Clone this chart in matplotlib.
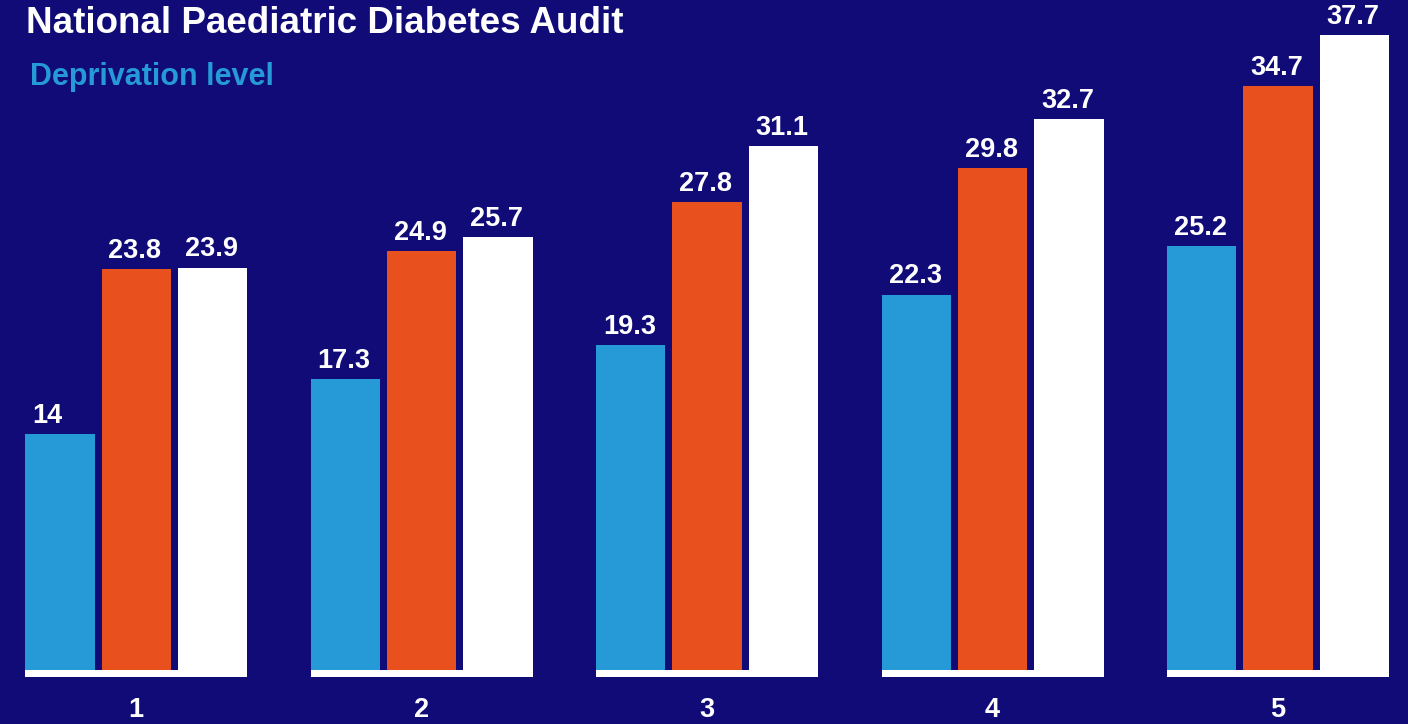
import numpy as np
import matplotlib.pyplot as plt

plt.rcParams['font.family'] = ['Liberation Sans', 'DejaVu Sans']

levels = ['1', '2', '3', '4', '5']
series_a = [14, 17.3, 19.3, 22.3, 25.2]     # blue
series_b = [23.8, 24.9, 27.8, 29.8, 34.7]   # orange
series_c = [23.9, 25.7, 31.1, 32.7, 37.7]   # white

bg = '#110b78'
colors = ['#259ad6', '#e8501e', '#ffffff']

fig = plt.figure(figsize=(14.08, 7.24), dpi=100, facecolor=bg)
ax = fig.add_axes([0, 0, 1, 1])
ax.set_facecolor(bg)

x = np.arange(len(levels))
w = 0.2427
step = 0.2673

for i, (vals, c) in enumerate(zip([series_a, series_b, series_c], colors)):
    pos = x + (i - 1) * step
    ax.bar(pos, vals, width=w, color=c, linewidth=0)
    for p, v in zip(pos, vals):
        lab = '%g' % v
        # labels sit left-aligned just inside the bar edge
        ax.annotate(lab, (p - w / 2, v), xytext=(5, 8), textcoords='offset points',
                    ha='left', va='baseline', color='white',
                    fontsize=19.5, fontweight='bold')

# white baseline under each group
ax.bar(x, -0.42, width=2 * step + w, color='white', linewidth=0)

for xi, lab in zip(x, levels):
    ax.text(xi, -2.4, lab, ha='center', va='center', color='white',
            fontsize=19.5, fontweight='bold')

ax.set_xlim(-0.477, 4.455)
ax.set_ylim(-3.207, 39.79)
ax.axis('off')

fig.text(26 / 1408, 1 - 33 / 724, 'National Paediatric Diabetes Audit',
         ha='left', va='baseline', color='white', fontsize=26.5, fontweight='bold')
fig.text(30 / 1408, 1 - 85 / 724, 'Deprivation level',
         ha='left', va='baseline', color='#259ad6', fontsize=22, fontweight='bold')

fig.savefig('out.png', dpi=100, facecolor=bg)
